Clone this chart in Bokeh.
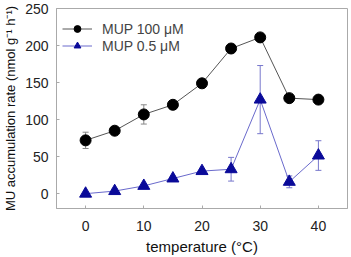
from bokeh.plotting import figure
from bokeh.models import Whisker, ColumnDataSource, TeeHead, FixedTicker, Range1d
from bokeh.embed import file_html
from bokeh.resources import INLINE

temperature = [0, 5, 10, 15, 20, 25, 30, 35, 40]
mup100 = [72, 85, 107, 120, 149, 196, 211, 129, 127]
mup100_err = [11, 3, 13, 3, 3, 3, 3, 3, 3]
mup05 = [0, 3.5, 10.5, 20.5, 30.5, 33, 127, 16, 51.5]
mup05_err = [1, 3, 2, 2, 2, 16, 46, 8, 20]
x_ticks = [0, 10, 20, 30, 40]
y_ticks = [0, 50, 100, 150, 200, 250]

FONT = "Liberation Sans"

p = figure(width=351, height=257, output_backend="svg", toolbar_location=None,
           x_range=Range1d(-5, 45), y_range=Range1d(-20, 250),
           min_border_left=55, min_border_right=4, min_border_top=8, min_border_bottom=45)

s1 = ColumnDataSource(dict(x=temperature, y=mup100,
                           lo=[v - e for v, e in zip(mup100, mup100_err)],
                           hi=[v + e for v, e in zip(mup100, mup100_err)]))
s2 = ColumnDataSource(dict(x=temperature, y=mup05,
                           lo=[v - e for v, e in zip(mup05, mup05_err)],
                           hi=[v + e for v, e in zip(mup05, mup05_err)]))

w1 = Whisker(source=s1, base="x", lower="lo", upper="hi", line_color="#888888", line_width=1,
             upper_head=TeeHead(size=6, line_color="#888888"), lower_head=TeeHead(size=6, line_color="#888888"))
w2 = Whisker(source=s2, base="x", lower="lo", upper="hi", line_color="#7777cc", line_width=1,
             upper_head=TeeHead(size=6, line_color="#7777cc"), lower_head=TeeHead(size=6, line_color="#7777cc"))
p.add_layout(w1)
p.add_layout(w2)

p.line("x", "y", source=s1, line_color="#555555", line_width=1, legend_label="MUP 100 μM")
p.scatter("x", "y", source=s1, marker="circle", size=11, fill_color="black", line_color="black",
          legend_label="MUP 100 μM")
p.line("x", "y", source=s2, line_color="#6a6acc", line_width=1, legend_label="MUP 0.5 μM")
p.scatter("x", "y", source=s2, marker="triangle", size=12, fill_color="#0a0a99", line_color="#0a0a99",
          legend_label="MUP 0.5 μM")

p.xgrid.visible = False
p.ygrid.visible = False
p.outline_line_color = "#aaaaaa"
p.outline_line_width = 1

for ax in (p.xaxis[0], p.yaxis[0]):
    ax.axis_line_color = "#aaaaaa"
    ax.major_tick_in = 3
    ax.major_tick_out = 0
    ax.minor_tick_in = 0
    ax.minor_tick_out = 0
    ax.major_tick_line_color = "#aaaaaa"
    ax.major_label_text_font = FONT
    ax.major_label_text_font_size = "14px"
    ax.major_label_text_color = "#222222"
    ax.axis_label_text_font = FONT
    ax.axis_label_text_font_style = "normal"
    ax.axis_label_text_color = "#111111"

p.xaxis.ticker = FixedTicker(ticks=x_ticks)
p.yaxis.ticker = FixedTicker(ticks=y_ticks)
p.xaxis.axis_label = "temperature (°C)"
p.xaxis.axis_label_text_font_size = "15px"
p.yaxis.axis_label = "MU accumulation rate (nmol g⁻¹ h⁻¹)"
p.yaxis.axis_label_text_font_size = "13px"
p.xaxis.major_label_standoff = 12
p.yaxis.major_label_standoff = 8
p.xaxis.axis_label_standoff = 4
p.yaxis.axis_label_standoff = 4

p.legend.border_line_color = None
p.legend.background_fill_alpha = 0
p.legend.label_text_font = FONT
p.legend.label_text_font_size = "14px"
p.legend.glyph_width = 30
p.legend.label_standoff = 10
p.legend.spacing = 0
p.legend.padding = 4
p.legend.margin = 0
p.legend.label_height = 17
p.legend.glyph_height = 17
p.legend.location = (6, 154)

open("out.html", "w").write(file_html(p, INLINE))
